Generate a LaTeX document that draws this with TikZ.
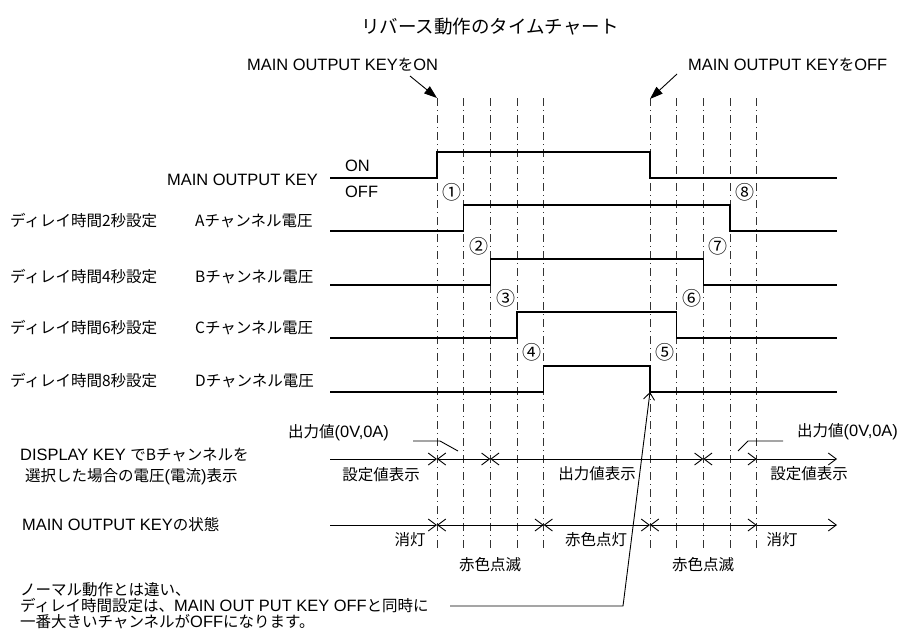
\documentclass[tikz,border=0pt]{standalone}
\usepackage{fontspec}
\setmainfont[Scale=1.06]{Liberation Sans}
\newfontfamily\jp{Noto Sans CJK JP}
\usetikzlibrary{arrows.meta}

\begin{document}
\begin{tikzpicture}[x=1pt,y=-1pt,
      txt/.style={font=\fontsize{15.5}{16}\selectfont,inner sep=0pt},
      num/.style={txt,font=\jp\fontsize{15.5}{16}\selectfont},
      circ/.style={txt,font=\jp\fontsize{19}{19}\selectfont},
      guide/.style={black!80,line width=0.7pt,
                    dash pattern=on 8pt off 4pt on 1pt off 4pt},
      wave/.style={line width=1.1pt},
      fw/.style={line width=0.9pt,-{Straight Barb[length=8pt,width=12pt]}},
      bw/.style={line width=0.9pt,
                 {Straight Barb[length=8pt,width=12pt]}-{Straight Barb[length=8pt,width=12pt]}},
      push/.style={line width=0.9pt,-{Triangle[length=13pt,width=9pt]}},
      lead/.style={line width=0.9pt}]
    \useasboundingbox (0,0) rectangle (904,635);

    % ================= title and key events =================
    \node[txt,anchor=west,font=\jp\fontsize{18.5}{19}\selectfont] (title)
      at (361,27) {リバース動作のタイムチャート};
    \node[txt,anchor=west] (onlbl) at (247,65) {MAIN OUTPUT KEY{\jp を}ON};
    \node[txt,anchor=west] (offlbl) at (688,65) {MAIN OUTPUT KEY{\jp を}OFF};
    \coordinate (onfrom) at (410,76);
    \coordinate (offfrom) at (677,74);
    \coordinate (onat) at (437,98);
    \coordinate (offat) at (650,99);
    \draw[push] (onfrom) -- (onat);
    \draw[push] (offfrom) -- (offat);

    % time marks
    \foreach \t in {437,463.7,490.3,517,543.7,650,676.7,703.3,730,756.7}
      \draw[guide] (\t,98) -- (\t,550);

    % ================= waveforms =================
    \foreach \lo/\ri/\fa in {178/437/650,231/463.7/730,285/490.3/703.3,
                             338/517/676.7,392/543.7/650}
      \draw[wave] (330,\lo) -- (\ri,\lo) -- (\ri,\lo-26) -- (\fa,\lo-26)
                  -- (\fa,\lo) -- (837,\lo);

    \node[txt,anchor=east] (keylbl) at (318,180) {MAIN OUTPUT KEY};
    \node[txt,anchor=west] (keyon) at (345,166) {ON};
    \node[txt,anchor=west] (keyoff) at (345,192) {OFF};

    \foreach \y/\s/\c in {221/2/A,277/4/B,328/6/C,381/8/D}{
      \node[txt,anchor=west,font=\jp\fontsize{15.5}{16}\selectfont] (dly\c)
        at (10,\y) {ディレイ時間\s 秒設定};
      \node[txt,anchor=west,font=\jp\fontsize{15.5}{16}\selectfont] (ch\c)
        at (195,\y) {\c チャンネル電圧};
    }

    \foreach \x/\y/\s [count=\i] in {452/192/①,479/246/②,506/298/③,532/352/④,
                                     665/352/⑤,692/298/⑥,718/246/⑦,745/192/⑧}
      \node[circ] (n\i) at (\x,\y) {\s};

    % ================= display row =================
    \node[txt,anchor=west] (dispA) at (20,455) {DISPLAY KEY {\jp でBチャンネルを}};
    \node[txt,anchor=west] (dispB) at (25,477)
      {{\jp 選択した場合の電圧}({\jp 電流}){\jp 表示}};

    \coordinate (d0) at (330,459);
    \coordinate (d1) at (437,459);
    \coordinate (d2) at (490.3,459);
    \coordinate (d3) at (703.3,459);
    \coordinate (d4) at (756.7,459);
    \coordinate (d5) at (837,459);
    \draw[fw] (d0) -- (d1);
    \draw[bw] (d1) -- (d2);
    \draw[bw] (d2) -- (d3);
    \draw[bw] (d3) -- (d4);
    \draw[fw] (d4) -- (d5);

    \node[txt,anchor=west] (outL) at (288,433) {{\jp 出力値}(0V,0A)};
    \node[txt,anchor=west] (outR) at (797,432) {{\jp 出力値}(0V,0A)};
    \draw[lead] (413,441) -- (440,441) -- (458,451);
    \draw[lead] (783,441) -- (748,441) -- (738,451);

    \node[num] (setL) at (381,475) {設定値表示};
    \node[num] (outV) at (597,474) {出力値表示};
    \node[num] (setR) at (809,474) {設定値表示};

    % ================= key state row =================
    \node[txt,anchor=west] (stlbl) at (22,525) {MAIN OUTPUT KEY{\jp の状態}};

    \coordinate (k0) at (330,525);
    \coordinate (k1) at (437,525);
    \coordinate (k2) at (543.7,525);
    \coordinate (k3) at (650,525);
    \coordinate (k4) at (756.7,525);
    \coordinate (k5) at (837,525);
    \draw[fw] (k0) -- (k1);
    \draw[bw] (k1) -- (k2);
    \draw[bw] (k2) -- (k3);
    \draw[bw] (k3) -- (k4);
    \draw[fw] (k4) -- (k5);

    \node[num] (offA) at (410,540) {消灯};
    \node[num] (blkA) at (490,565) {赤色点滅};
    \node[num] (litA) at (596,540) {赤色点灯};
    \node[num] (blkB) at (703,565) {赤色点滅};
    \node[num] (offB) at (782,540) {消灯};

    % ================= note =================
    \node[txt,anchor=west] (note1) at (20,590) {{\jp ノーマル動作とは違い、}};
    \node[txt,anchor=west] (note2) at (20,606)
      {{\jp ディレイ時間設定は、}MAIN OUT PUT KEY OFF{\jp と同時に}};
    \node[txt,anchor=west] (note3) at (20,622)
      {{\jp 一番大きいチャンネルが}OFF{\jp になります。}};
    \coordinate (nbend) at (623,606);
    \coordinate (dfall) at (650,392);
    \draw[lead,-{Straight Barb[length=7pt,width=11pt]}]
      (450,606) -- (nbend) -- (dfall);
  \end{tikzpicture}
\end{document}
